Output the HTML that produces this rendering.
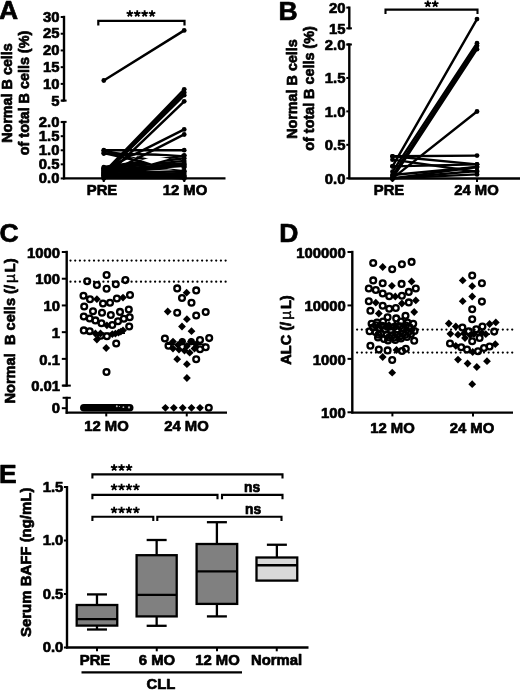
<!DOCTYPE html>
<html><head><meta charset="utf-8"><title>Figure</title>
<style>html,body{margin:0;padding:0;background:#fff}svg{display:block}</style></head><body>
<svg width="520" height="690" viewBox="0 0 520 690" font-family="Liberation Sans, sans-serif" font-weight="bold" fill="#000" stroke="none">
<defs><filter id="soft" x="-2%" y="-2%" width="104%" height="104%"><feGaussianBlur stdDeviation="0.35"/></filter></defs>
<rect width="520" height="690" fill="#fff"/>
<g filter="url(#soft)">
<g id="A" stroke="#000">
<line x1="64.00" y1="15.80" x2="64.00" y2="101.40" stroke-width="2.4" />
<line x1="64.00" y1="121.00" x2="64.00" y2="179.40" stroke-width="2.4" />
<line x1="63.00" y1="178.40" x2="225.50" y2="178.40" stroke-width="2.4" />
<line x1="60.70" y1="17.00" x2="64.00" y2="17.00" stroke-width="2.0" />
<line x1="60.70" y1="33.72" x2="64.00" y2="33.72" stroke-width="2.0" />
<line x1="60.70" y1="50.44" x2="64.00" y2="50.44" stroke-width="2.0" />
<line x1="60.70" y1="67.16" x2="64.00" y2="67.16" stroke-width="2.0" />
<line x1="60.70" y1="83.88" x2="64.00" y2="83.88" stroke-width="2.0" />
<line x1="60.70" y1="100.60" x2="64.00" y2="100.60" stroke-width="2.0" />
<line x1="60.70" y1="122.10" x2="64.00" y2="122.10" stroke-width="2.0" />
<line x1="60.70" y1="136.18" x2="64.00" y2="136.18" stroke-width="2.0" />
<line x1="60.70" y1="150.26" x2="64.00" y2="150.26" stroke-width="2.0" />
<line x1="60.70" y1="164.34" x2="64.00" y2="164.34" stroke-width="2.0" />
<line x1="60.70" y1="178.42" x2="64.00" y2="178.42" stroke-width="2.0" />
<line x1="103.75" y1="178.40" x2="103.75" y2="182.00" stroke-width="2.0" />
<line x1="184.25" y1="178.40" x2="184.25" y2="182.00" stroke-width="2.0" />
<line x1="61.40" y1="100.60" x2="66.60" y2="100.60" stroke-width="2.0" />
<line x1="61.40" y1="121.90" x2="66.60" y2="121.90" stroke-width="2.0" />
</g>
<text transform="translate(59.5,21.75) scale(0.99,1)" font-size="15" text-anchor="end" stroke="#000" stroke-width="0.7" stroke-linejoin="round" >30</text>
<text transform="translate(59.5,38.47) scale(0.99,1)" font-size="15" text-anchor="end" stroke="#000" stroke-width="0.7" stroke-linejoin="round" >25</text>
<text transform="translate(59.5,55.19) scale(0.99,1)" font-size="15" text-anchor="end" stroke="#000" stroke-width="0.7" stroke-linejoin="round" >20</text>
<text transform="translate(59.5,71.91) scale(0.99,1)" font-size="15" text-anchor="end" stroke="#000" stroke-width="0.7" stroke-linejoin="round" >15</text>
<text transform="translate(59.5,88.63) scale(0.99,1)" font-size="15" text-anchor="end" stroke="#000" stroke-width="0.7" stroke-linejoin="round" >10</text>
<text transform="translate(59.5,105.75) scale(0.99,1)" font-size="15" text-anchor="end" stroke="#000" stroke-width="0.7" stroke-linejoin="round" >5</text>
<text transform="translate(59.5,126.94999999999999) scale(0.99,1)" font-size="15" text-anchor="end" stroke="#000" stroke-width="0.7" stroke-linejoin="round" >2.0</text>
<text transform="translate(59.5,141.03) scale(0.99,1)" font-size="15" text-anchor="end" stroke="#000" stroke-width="0.7" stroke-linejoin="round" >1.5</text>
<text transform="translate(59.5,155.10999999999999) scale(0.99,1)" font-size="15" text-anchor="end" stroke="#000" stroke-width="0.7" stroke-linejoin="round" >1.0</text>
<text transform="translate(59.5,169.19) scale(0.99,1)" font-size="15" text-anchor="end" stroke="#000" stroke-width="0.7" stroke-linejoin="round" >0.5</text>
<text transform="translate(59.5,183.26999999999998) scale(0.99,1)" font-size="15" text-anchor="end" stroke="#000" stroke-width="0.7" stroke-linejoin="round" >0.0</text>
<text transform="translate(102,195.2) scale(0.99,1)" font-size="15" text-anchor="middle" stroke="#000" stroke-width="0.7" stroke-linejoin="round" >PRE</text>
<text transform="translate(185,195.2) scale(0.99,1)" font-size="15" text-anchor="middle" stroke="#000" stroke-width="0.7" stroke-linejoin="round" >12 MO</text>
<text transform="translate(-1,18.6) scale(1.0,1)" font-size="26.5" text-anchor="start" stroke="#000" stroke-width="0.7" stroke-linejoin="round" >A</text>
<text transform="translate(12,93) rotate(-90) scale(0.983,1)" font-size="14.6" text-anchor="middle" stroke="#000" stroke-width="0.7" stroke-linejoin="round">Normal B cells</text>
<text transform="translate(29,93) rotate(-90) scale(0.983,1)" font-size="14.6" text-anchor="middle" stroke="#000" stroke-width="0.7" stroke-linejoin="round">of total B cells (%)</text>
<path d="M98.3 25.5V20.9H184.5V25.5" fill="none" stroke="#000" stroke-width="2.2"/>
<path d="M129.85 13.60L129.85 10.15M129.85 13.60L133.13 12.53M129.85 13.60L131.88 16.39M129.85 13.60L127.82 16.39M129.85 13.60L126.57 12.53M137.25 13.60L137.25 10.15M137.25 13.60L140.53 12.53M137.25 13.60L139.28 16.39M137.25 13.60L135.22 16.39M137.25 13.60L133.97 12.53M144.65 13.60L144.65 10.15M144.65 13.60L147.93 12.53M144.65 13.60L146.68 16.39M144.65 13.60L142.62 16.39M144.65 13.60L141.37 12.53M152.05 13.60L152.05 10.15M152.05 13.60L155.33 12.53M152.05 13.60L154.08 16.39M152.05 13.60L150.02 16.39M152.05 13.60L148.77 12.53" fill="none" stroke="#000" stroke-width="1.8" stroke-linecap="butt"/>
<g stroke="#000" stroke-linecap="round">
<line x1="103.75" y1="80.46" x2="184.25" y2="30.36" stroke-width="2.5" />
<line x1="103.75" y1="172.68" x2="184.25" y2="89.31" stroke-width="2.5" />
<line x1="103.75" y1="173.80" x2="184.25" y2="92.48" stroke-width="2.5" />
<line x1="103.75" y1="174.93" x2="184.25" y2="95.16" stroke-width="2.5" />
<line x1="103.75" y1="178.30" x2="184.25" y2="101.33" stroke-width="2.5" />
<line x1="103.75" y1="169.87" x2="184.25" y2="129.41" stroke-width="2.5" />
<line x1="103.75" y1="175.49" x2="184.25" y2="134.46" stroke-width="2.5" />
<line x1="103.75" y1="150.20" x2="184.25" y2="150.20" stroke-width="2.5" />
<line x1="103.75" y1="153.57" x2="184.25" y2="155.26" stroke-width="2.5" />
<line x1="103.75" y1="153.01" x2="184.25" y2="171.28" stroke-width="2.5" />
<line x1="103.75" y1="150.76" x2="184.25" y2="167.06" stroke-width="2.5" />
<line x1="103.75" y1="167.06" x2="184.25" y2="155.82" stroke-width="2.5" />
<line x1="103.75" y1="168.18" x2="184.25" y2="158.35" stroke-width="2.5" />
<line x1="103.75" y1="169.03" x2="184.25" y2="160.88" stroke-width="2.5" />
<line x1="103.75" y1="170.43" x2="184.25" y2="163.13" stroke-width="2.5" />
<line x1="103.75" y1="171.28" x2="184.25" y2="165.37" stroke-width="2.5" />
<line x1="103.75" y1="172.68" x2="184.25" y2="167.06" stroke-width="2.5" />
<line x1="103.75" y1="174.09" x2="184.25" y2="170.99" stroke-width="2.5" />
<line x1="103.75" y1="175.49" x2="184.25" y2="172.96" stroke-width="2.5" />
<line x1="103.75" y1="176.61" x2="184.25" y2="174.93" stroke-width="2.5" />
<line x1="103.75" y1="177.46" x2="184.25" y2="176.61" stroke-width="2.5" />
<line x1="103.75" y1="178.30" x2="184.25" y2="178.30" stroke-width="2.5" />
<line x1="103.75" y1="168.18" x2="184.25" y2="176.05" stroke-width="2.5" />
<line x1="103.75" y1="169.87" x2="184.25" y2="178.30" stroke-width="2.5" />
<line x1="103.75" y1="174.93" x2="184.25" y2="178.30" stroke-width="2.5" />
<line x1="103.75" y1="172.68" x2="184.25" y2="164.25" stroke-width="2.5" />
</g>
<circle cx="103.8" cy="80.5" r="2.4" fill="#000"/>
<circle cx="184.2" cy="30.4" r="2.4" fill="#000"/>
<circle cx="103.8" cy="172.7" r="2.4" fill="#000"/>
<circle cx="184.2" cy="89.3" r="2.4" fill="#000"/>
<circle cx="103.8" cy="173.8" r="2.4" fill="#000"/>
<circle cx="184.2" cy="92.5" r="2.4" fill="#000"/>
<circle cx="103.8" cy="174.9" r="2.4" fill="#000"/>
<circle cx="184.2" cy="95.2" r="2.4" fill="#000"/>
<circle cx="103.8" cy="178.3" r="2.4" fill="#000"/>
<circle cx="184.2" cy="101.3" r="2.4" fill="#000"/>
<circle cx="103.8" cy="169.9" r="2.4" fill="#000"/>
<circle cx="184.2" cy="129.4" r="2.4" fill="#000"/>
<circle cx="103.8" cy="175.5" r="2.4" fill="#000"/>
<circle cx="184.2" cy="134.5" r="2.4" fill="#000"/>
<circle cx="103.8" cy="150.2" r="2.4" fill="#000"/>
<circle cx="184.2" cy="150.2" r="2.4" fill="#000"/>
<circle cx="103.8" cy="153.6" r="2.4" fill="#000"/>
<circle cx="184.2" cy="155.3" r="2.4" fill="#000"/>
<circle cx="103.8" cy="153.0" r="2.4" fill="#000"/>
<circle cx="184.2" cy="171.3" r="2.4" fill="#000"/>
<circle cx="103.8" cy="150.8" r="2.4" fill="#000"/>
<circle cx="184.2" cy="167.1" r="2.4" fill="#000"/>
<circle cx="103.8" cy="167.1" r="2.4" fill="#000"/>
<circle cx="184.2" cy="155.8" r="2.4" fill="#000"/>
<circle cx="103.8" cy="168.2" r="2.4" fill="#000"/>
<circle cx="184.2" cy="158.3" r="2.4" fill="#000"/>
<circle cx="103.8" cy="169.0" r="2.4" fill="#000"/>
<circle cx="184.2" cy="160.9" r="2.4" fill="#000"/>
<circle cx="103.8" cy="170.4" r="2.4" fill="#000"/>
<circle cx="184.2" cy="163.1" r="2.4" fill="#000"/>
<circle cx="103.8" cy="171.3" r="2.4" fill="#000"/>
<circle cx="184.2" cy="165.4" r="2.4" fill="#000"/>
<circle cx="103.8" cy="172.7" r="2.4" fill="#000"/>
<circle cx="184.2" cy="167.1" r="2.4" fill="#000"/>
<circle cx="103.8" cy="174.1" r="2.4" fill="#000"/>
<circle cx="184.2" cy="171.0" r="2.4" fill="#000"/>
<circle cx="103.8" cy="175.5" r="2.4" fill="#000"/>
<circle cx="184.2" cy="173.0" r="2.4" fill="#000"/>
<circle cx="103.8" cy="176.6" r="2.4" fill="#000"/>
<circle cx="184.2" cy="174.9" r="2.4" fill="#000"/>
<circle cx="103.8" cy="177.5" r="2.4" fill="#000"/>
<circle cx="184.2" cy="176.6" r="2.4" fill="#000"/>
<circle cx="103.8" cy="178.3" r="2.4" fill="#000"/>
<circle cx="184.2" cy="178.3" r="2.4" fill="#000"/>
<circle cx="103.8" cy="168.2" r="2.4" fill="#000"/>
<circle cx="184.2" cy="176.1" r="2.4" fill="#000"/>
<circle cx="103.8" cy="169.9" r="2.4" fill="#000"/>
<circle cx="184.2" cy="178.3" r="2.4" fill="#000"/>
<circle cx="103.8" cy="174.9" r="2.4" fill="#000"/>
<circle cx="184.2" cy="178.3" r="2.4" fill="#000"/>
<circle cx="103.8" cy="172.7" r="2.4" fill="#000"/>
<circle cx="184.2" cy="164.2" r="2.4" fill="#000"/>
<path d="M141.5 160.2L153 156.8L169.5 158.4L151.5 163.4Z" fill="#fff"/>
<path d="M167 168.3L181.5 167.3L181.5 169.8Z" fill="#fff"/>
<path d="M156 153.2L181.5 152.6L181.5 155Z" fill="#fff"/>
<path d="M130.5 156.2L137.5 155.6L136 157.6Z" fill="#fff"/>
<g id="B" stroke="#000">
<line x1="349.30" y1="6.50" x2="349.30" y2="29.40" stroke-width="2.4" />
<line x1="349.30" y1="43.40" x2="349.30" y2="179.00" stroke-width="2.4" />
<line x1="348.30" y1="178.50" x2="520.00" y2="178.50" stroke-width="2.4" />
<line x1="346.30" y1="7.60" x2="349.30" y2="7.60" stroke-width="2.0" />
<line x1="346.30" y1="28.30" x2="351.90" y2="28.30" stroke-width="2.0" />
<line x1="346.70" y1="44.50" x2="351.90" y2="44.50" stroke-width="2.0" />
<line x1="346.30" y1="44.50" x2="349.30" y2="44.50" stroke-width="2.0" />
<line x1="346.30" y1="77.94" x2="349.30" y2="77.94" stroke-width="2.0" />
<line x1="346.30" y1="111.38" x2="349.30" y2="111.38" stroke-width="2.0" />
<line x1="346.30" y1="144.82" x2="349.30" y2="144.82" stroke-width="2.0" />
<line x1="346.30" y1="178.26" x2="349.30" y2="178.26" stroke-width="2.0" />
<line x1="392.50" y1="178.50" x2="392.50" y2="182.00" stroke-width="2.0" />
<line x1="477.00" y1="178.50" x2="477.00" y2="182.00" stroke-width="2.0" />
</g>
<text transform="translate(345.5,12.85) scale(0.99,1)" font-size="15" text-anchor="end" stroke="#000" stroke-width="0.7" stroke-linejoin="round" >20</text>
<text transform="translate(345.5,33.55) scale(0.99,1)" font-size="15" text-anchor="end" stroke="#000" stroke-width="0.7" stroke-linejoin="round" >15</text>
<text transform="translate(345.5,49.75) scale(0.99,1)" font-size="15" text-anchor="end" stroke="#000" stroke-width="0.7" stroke-linejoin="round" >2.0</text>
<text transform="translate(345.5,83.19) scale(0.99,1)" font-size="15" text-anchor="end" stroke="#000" stroke-width="0.7" stroke-linejoin="round" >1.5</text>
<text transform="translate(345.5,116.63) scale(0.99,1)" font-size="15" text-anchor="end" stroke="#000" stroke-width="0.7" stroke-linejoin="round" >1.0</text>
<text transform="translate(345.5,150.07) scale(0.99,1)" font-size="15" text-anchor="end" stroke="#000" stroke-width="0.7" stroke-linejoin="round" >0.5</text>
<text transform="translate(345.5,183.51) scale(0.99,1)" font-size="15" text-anchor="end" stroke="#000" stroke-width="0.7" stroke-linejoin="round" >0.0</text>
<text transform="translate(389,195.2) scale(0.99,1)" font-size="15" text-anchor="middle" stroke="#000" stroke-width="0.7" stroke-linejoin="round" >PRE</text>
<text transform="translate(476.5,195.2) scale(0.99,1)" font-size="15" text-anchor="middle" stroke="#000" stroke-width="0.7" stroke-linejoin="round" >24 MO</text>
<text transform="translate(278.5,20.2) scale(1.0,1)" font-size="26.5" text-anchor="start" stroke="#000" stroke-width="0.7" stroke-linejoin="round" >B</text>
<text transform="translate(297,89) rotate(-90) scale(0.983,1)" font-size="14.6" text-anchor="middle" stroke="#000" stroke-width="0.7" stroke-linejoin="round">Normal B cells</text>
<text transform="translate(313.8,88.5) rotate(-90) scale(0.983,1)" font-size="14.6" text-anchor="middle" stroke="#000" stroke-width="0.7" stroke-linejoin="round">of total B cells (%)</text>
<path d="M385.5 14.0V9.6H477.5V14.0" fill="none" stroke="#000" stroke-width="2.1"/>
<path d="M427.80 3.90L427.80 0.45M427.80 3.90L431.08 2.83M427.80 3.90L429.83 6.69M427.80 3.90L425.77 6.69M427.80 3.90L424.52 2.83M435.20 3.90L435.20 0.45M435.20 3.90L438.48 2.83M435.20 3.90L437.23 6.69M435.20 3.90L433.17 6.69M435.20 3.90L431.92 2.83" fill="none" stroke="#000" stroke-width="1.8" stroke-linecap="butt"/>
<g stroke="#000" stroke-linecap="round">
<line x1="392.50" y1="166.35" x2="477.00" y2="19.15" stroke-width="2.4" />
<line x1="392.50" y1="171.71" x2="477.00" y2="43.16" stroke-width="2.4" />
<line x1="392.50" y1="175.72" x2="477.00" y2="45.84" stroke-width="2.4" />
<line x1="392.50" y1="178.40" x2="477.00" y2="49.19" stroke-width="2.4" />
<line x1="392.50" y1="178.40" x2="477.00" y2="111.45" stroke-width="2.4" />
<line x1="392.50" y1="156.31" x2="477.00" y2="155.64" stroke-width="2.4" />
<line x1="392.50" y1="156.31" x2="477.00" y2="164.34" stroke-width="2.4" />
<line x1="392.50" y1="159.65" x2="477.00" y2="171.71" stroke-width="2.4" />
<line x1="392.50" y1="166.35" x2="477.00" y2="164.34" stroke-width="2.4" />
<line x1="392.50" y1="175.05" x2="477.00" y2="167.02" stroke-width="2.4" />
<line x1="392.50" y1="178.40" x2="477.00" y2="167.02" stroke-width="2.4" />
<line x1="392.50" y1="178.40" x2="477.00" y2="171.04" stroke-width="2.4" />
<line x1="392.50" y1="178.40" x2="477.00" y2="174.38" stroke-width="2.4" />
</g>
<circle cx="392.5" cy="166.3" r="2.4" fill="#000"/>
<circle cx="477.0" cy="19.1" r="2.4" fill="#000"/>
<circle cx="392.5" cy="171.7" r="2.4" fill="#000"/>
<circle cx="477.0" cy="43.2" r="2.4" fill="#000"/>
<circle cx="392.5" cy="175.7" r="2.4" fill="#000"/>
<circle cx="477.0" cy="45.8" r="2.4" fill="#000"/>
<circle cx="392.5" cy="178.4" r="2.4" fill="#000"/>
<circle cx="477.0" cy="49.2" r="2.4" fill="#000"/>
<circle cx="392.5" cy="178.4" r="2.4" fill="#000"/>
<circle cx="477.0" cy="111.5" r="2.4" fill="#000"/>
<circle cx="392.5" cy="156.3" r="2.4" fill="#000"/>
<circle cx="477.0" cy="155.6" r="2.4" fill="#000"/>
<circle cx="392.5" cy="156.3" r="2.4" fill="#000"/>
<circle cx="477.0" cy="164.3" r="2.4" fill="#000"/>
<circle cx="392.5" cy="159.7" r="2.4" fill="#000"/>
<circle cx="477.0" cy="171.7" r="2.4" fill="#000"/>
<circle cx="392.5" cy="166.3" r="2.4" fill="#000"/>
<circle cx="477.0" cy="164.3" r="2.4" fill="#000"/>
<circle cx="392.5" cy="175.1" r="2.4" fill="#000"/>
<circle cx="477.0" cy="167.0" r="2.4" fill="#000"/>
<circle cx="392.5" cy="178.4" r="2.4" fill="#000"/>
<circle cx="477.0" cy="167.0" r="2.4" fill="#000"/>
<circle cx="392.5" cy="178.4" r="2.4" fill="#000"/>
<circle cx="477.0" cy="171.0" r="2.4" fill="#000"/>
<circle cx="392.5" cy="178.4" r="2.4" fill="#000"/>
<circle cx="477.0" cy="174.4" r="2.4" fill="#000"/>
<g id="C" stroke="#000">
<line x1="66.70" y1="250.80" x2="66.70" y2="386.60" stroke-width="2.4" />
<line x1="66.70" y1="396.80" x2="66.70" y2="413.80" stroke-width="2.4" />
<line x1="65.70" y1="412.60" x2="227.00" y2="412.60" stroke-width="2.4" />
<line x1="61.80" y1="252.00" x2="66.70" y2="252.00" stroke-width="2.0" />
<line x1="61.80" y1="278.72" x2="66.70" y2="278.72" stroke-width="2.0" />
<line x1="61.80" y1="305.44" x2="66.70" y2="305.44" stroke-width="2.0" />
<line x1="61.80" y1="332.16" x2="66.70" y2="332.16" stroke-width="2.0" />
<line x1="61.80" y1="358.88" x2="66.70" y2="358.88" stroke-width="2.0" />
<line x1="61.80" y1="385.60" x2="66.70" y2="385.60" stroke-width="2.0" />
<line x1="62.60" y1="397.80" x2="70.80" y2="397.80" stroke-width="2.0" />
<line x1="62.60" y1="385.60" x2="70.80" y2="385.60" stroke-width="2.0" />
<line x1="61.80" y1="408.20" x2="66.70" y2="408.20" stroke-width="2.0" />
<line x1="106.25" y1="412.60" x2="106.25" y2="416.40" stroke-width="2.0" />
<line x1="186.75" y1="412.60" x2="186.75" y2="416.40" stroke-width="2.0" />
<line x1="70.50" y1="260.50" x2="228.00" y2="260.50" stroke-width="2.25" stroke-dasharray="0.01 4.69" stroke-linecap="round"/>
<line x1="70.50" y1="281.70" x2="228.00" y2="281.70" stroke-width="2.25" stroke-dasharray="0.01 4.69" stroke-linecap="round"/>
</g>
<text transform="translate(60.0,257.75) scale(0.99,1)" font-size="15" text-anchor="end" stroke="#000" stroke-width="0.7" stroke-linejoin="round" >1000</text>
<text transform="translate(60.0,284.47) scale(0.99,1)" font-size="15" text-anchor="end" stroke="#000" stroke-width="0.7" stroke-linejoin="round" >100</text>
<text transform="translate(60.0,311.19) scale(0.99,1)" font-size="15" text-anchor="end" stroke="#000" stroke-width="0.7" stroke-linejoin="round" >10</text>
<text transform="translate(60.0,337.90999999999997) scale(0.99,1)" font-size="15" text-anchor="end" stroke="#000" stroke-width="0.7" stroke-linejoin="round" >1</text>
<text transform="translate(60.0,364.63) scale(0.99,1)" font-size="15" text-anchor="end" stroke="#000" stroke-width="0.7" stroke-linejoin="round" >0.1</text>
<text transform="translate(60.0,391.35) scale(0.99,1)" font-size="15" text-anchor="end" stroke="#000" stroke-width="0.7" stroke-linejoin="round" >0.01</text>
<text transform="translate(60.0,413.3) scale(0.99,1)" font-size="15" text-anchor="end" stroke="#000" stroke-width="0.7" stroke-linejoin="round" >0</text>
<text transform="translate(106.5,431.3) scale(0.99,1)" font-size="15" text-anchor="middle" stroke="#000" stroke-width="0.7" stroke-linejoin="round" >12 MO</text>
<text transform="translate(186.5,431.3) scale(0.99,1)" font-size="15" text-anchor="middle" stroke="#000" stroke-width="0.7" stroke-linejoin="round" >24 MO</text>
<text transform="translate(-0.5,241.6) scale(1.0,1)" font-size="26.5" text-anchor="start" stroke="#000" stroke-width="0.7" stroke-linejoin="round" >C</text>
<text transform="translate(15,403.6) rotate(-90) scale(1.002,1)" font-size="14.6" text-anchor="start" stroke="#000" stroke-width="0.7" stroke-linejoin="round">Normal&#160;&#160;B cells (/<tspan font-weight="normal" font-size="15.5" dx="2" stroke-width="0.5">µ</tspan><tspan dx="1.8">L)</tspan></text>
<path d="M115.4 329.7L119.3 333.6L115.4 337.5L111.5 333.6Z" fill="#000"/>
<path d="M120.8 327.7L124.7 331.6L120.8 335.5L116.9 331.6Z" fill="#000"/>
<path d="M100.5 329.6L104.4 333.5L100.5 337.4L96.6 333.5Z" fill="#000"/>
<path d="M96.9 295.3L100.8 299.2L96.9 303.1L93.0 299.2Z" fill="#000"/>
<path d="M123.0 293.7L126.9 297.6L123.0 301.5L119.1 297.6Z" fill="#000"/>
<path d="M106.9 321.4L110.8 325.3L106.9 329.2L103.0 325.3Z" fill="#000"/>
<path d="M95.4 329.6L99.3 333.5L95.4 337.4L91.5 333.5Z" fill="#000"/>
<path d="M112.3 330.3L116.2 334.2L112.3 338.1L108.4 334.2Z" fill="#000"/>
<path d="M118.5 328.8L122.4 332.7L118.5 336.6L114.6 332.7Z" fill="#000"/>
<path d="M123.0 326.5L126.9 330.4L123.0 334.3L119.1 330.4Z" fill="#000"/>
<path d="M96.9 335.7L100.8 339.6L96.9 343.5L93.0 339.6Z" fill="#000"/>
<path d="M106.2 344.1L110.1 348.0L106.2 351.9L102.3 348.0Z" fill="#000"/>
<circle cx="106.6" cy="275.0" r="2.9" fill="none" stroke="#000" stroke-width="2.3"/>
<circle cx="87.2" cy="281.2" r="2.9" fill="none" stroke="#000" stroke-width="2.3"/>
<circle cx="125.4" cy="280.1" r="2.9" fill="none" stroke="#000" stroke-width="2.3"/>
<circle cx="96.9" cy="285.0" r="2.9" fill="none" stroke="#000" stroke-width="2.3"/>
<circle cx="115.8" cy="284.2" r="2.9" fill="none" stroke="#000" stroke-width="2.3"/>
<circle cx="106.6" cy="288.8" r="2.9" fill="none" stroke="#000" stroke-width="2.3"/>
<circle cx="83.5" cy="295.8" r="2.9" fill="none" stroke="#000" stroke-width="2.3"/>
<circle cx="90.0" cy="299.2" r="2.9" fill="none" stroke="#000" stroke-width="2.3"/>
<circle cx="103.0" cy="303.5" r="2.9" fill="none" stroke="#000" stroke-width="2.3"/>
<circle cx="110.0" cy="302.7" r="2.9" fill="none" stroke="#000" stroke-width="2.3"/>
<circle cx="116.9" cy="298.5" r="2.9" fill="none" stroke="#000" stroke-width="2.3"/>
<circle cx="130.0" cy="295.0" r="2.9" fill="none" stroke="#000" stroke-width="2.3"/>
<circle cx="84.2" cy="306.5" r="2.9" fill="none" stroke="#000" stroke-width="2.3"/>
<circle cx="93.0" cy="311.2" r="2.9" fill="none" stroke="#000" stroke-width="2.3"/>
<circle cx="102.0" cy="312.7" r="2.9" fill="none" stroke="#000" stroke-width="2.3"/>
<circle cx="110.8" cy="315.0" r="2.9" fill="none" stroke="#000" stroke-width="2.3"/>
<circle cx="120.0" cy="311.9" r="2.9" fill="none" stroke="#000" stroke-width="2.3"/>
<circle cx="128.8" cy="309.6" r="2.9" fill="none" stroke="#000" stroke-width="2.3"/>
<circle cx="83.8" cy="316.5" r="2.9" fill="none" stroke="#000" stroke-width="2.3"/>
<circle cx="89.7" cy="318.5" r="2.9" fill="none" stroke="#000" stroke-width="2.3"/>
<circle cx="95.4" cy="320.4" r="2.9" fill="none" stroke="#000" stroke-width="2.3"/>
<circle cx="101.5" cy="323.2" r="2.9" fill="none" stroke="#000" stroke-width="2.3"/>
<circle cx="112.3" cy="325.0" r="2.9" fill="none" stroke="#000" stroke-width="2.3"/>
<circle cx="118.0" cy="321.2" r="2.9" fill="none" stroke="#000" stroke-width="2.3"/>
<circle cx="123.8" cy="318.8" r="2.9" fill="none" stroke="#000" stroke-width="2.3"/>
<circle cx="129.7" cy="317.3" r="2.9" fill="none" stroke="#000" stroke-width="2.3"/>
<circle cx="83.8" cy="330.4" r="2.9" fill="none" stroke="#000" stroke-width="2.3"/>
<circle cx="89.7" cy="331.2" r="2.9" fill="none" stroke="#000" stroke-width="2.3"/>
<circle cx="129.2" cy="326.5" r="2.9" fill="none" stroke="#000" stroke-width="2.3"/>
<circle cx="100.8" cy="335.8" r="2.9" fill="none" stroke="#000" stroke-width="2.3"/>
<circle cx="106.9" cy="336.2" r="2.9" fill="none" stroke="#000" stroke-width="2.3"/>
<circle cx="116.2" cy="343.5" r="2.9" fill="none" stroke="#000" stroke-width="2.3"/>
<circle cx="106.5" cy="372.0" r="2.9" fill="none" stroke="#000" stroke-width="2.3"/>
<g stroke="#000">
<line x1="88.00" y1="333.20" x2="125.00" y2="333.20" stroke-width="1.6" />
</g>
<rect x="80" y="404" width="53.5" height="7.6" rx="3.8" fill="#000"/>
<circle cx="116.8" cy="406.3" r="1.0" fill="#bbb"/>
<circle cx="123.4" cy="407.2" r="0.9" fill="#bbb"/>
<circle cx="129" cy="407.4" r="1.1" fill="#bbb"/>
<circle cx="119.5" cy="406.5" r="0.6" fill="#bbb"/>
<circle cx="182.3" cy="341.6" r="3.6" fill="#000"/>
<circle cx="191.3" cy="341.6" r="3.6" fill="#000"/>
<path d="M178.0 341.1L181.9 345.0L178.0 348.9L174.1 345.0Z" fill="#000"/>
<path d="M187.0 342.1L190.9 346.0L187.0 349.9L183.1 346.0Z" fill="#000"/>
<path d="M196.0 340.4L199.9 344.3L196.0 348.2L192.1 344.3Z" fill="#000"/>
<path d="M186.6 288.8L190.5 292.7L186.6 296.6L182.7 292.7Z" fill="#000"/>
<path d="M167.7 307.6L171.6 311.5L167.7 315.4L163.8 311.5Z" fill="#000"/>
<path d="M186.9 315.3L190.8 319.2L186.9 323.1L183.0 319.2Z" fill="#000"/>
<path d="M182.0 322.6L185.9 326.5L182.0 330.4L178.1 326.5Z" fill="#000"/>
<path d="M191.5 327.3L195.4 331.2L191.5 335.1L187.6 331.2Z" fill="#000"/>
<path d="M173.0 337.7L176.9 341.6L173.0 345.5L169.1 341.6Z" fill="#000"/>
<path d="M182.0 337.7L185.9 341.6L182.0 345.5L178.1 341.6Z" fill="#000"/>
<path d="M191.0 337.7L194.9 341.6L191.0 345.5L187.1 341.6Z" fill="#000"/>
<path d="M173.0 344.6L176.9 348.5L173.0 352.4L169.1 348.5Z" fill="#000"/>
<path d="M179.0 345.6L182.9 349.5L179.0 353.4L175.1 349.5Z" fill="#000"/>
<path d="M184.5 346.6L188.4 350.5L184.5 354.4L180.6 350.5Z" fill="#000"/>
<path d="M189.7 348.8L193.6 352.7L189.7 356.6L185.8 352.7Z" fill="#000"/>
<path d="M194.5 344.6L198.4 348.5L194.5 352.4L190.6 348.5Z" fill="#000"/>
<path d="M177.2 355.3L181.1 359.2L177.2 363.1L173.3 359.2Z" fill="#000"/>
<path d="M186.9 360.3L190.8 364.2L186.9 368.1L183.0 364.2Z" fill="#000"/>
<path d="M186.9 374.1L190.8 378.0L186.9 381.9L183.0 378.0Z" fill="#000"/>
<path d="M165.4 403.9L169.3 407.8L165.4 411.7L161.5 407.8Z" fill="#000"/>
<path d="M173.8 403.9L177.7 407.8L173.8 411.7L169.9 407.8Z" fill="#000"/>
<path d="M182.7 403.9L186.6 407.8L182.7 411.7L178.8 407.8Z" fill="#000"/>
<path d="M191.5 403.9L195.4 407.8L191.5 411.7L187.6 407.8Z" fill="#000"/>
<path d="M200.0 403.9L203.9 407.8L200.0 411.7L196.1 407.8Z" fill="#000"/>
<circle cx="177.2" cy="288.4" r="2.9" fill="none" stroke="#000" stroke-width="2.3"/>
<circle cx="196.2" cy="290.4" r="2.9" fill="none" stroke="#000" stroke-width="2.3"/>
<circle cx="182.0" cy="298.0" r="2.9" fill="none" stroke="#000" stroke-width="2.3"/>
<circle cx="191.5" cy="302.7" r="2.9" fill="none" stroke="#000" stroke-width="2.3"/>
<circle cx="177.2" cy="312.7" r="2.9" fill="none" stroke="#000" stroke-width="2.3"/>
<circle cx="196.2" cy="315.5" r="2.9" fill="none" stroke="#000" stroke-width="2.3"/>
<circle cx="205.7" cy="312.0" r="2.9" fill="none" stroke="#000" stroke-width="2.3"/>
<circle cx="164.9" cy="338.5" r="2.9" fill="none" stroke="#000" stroke-width="2.3"/>
<circle cx="209.2" cy="338.1" r="2.9" fill="none" stroke="#000" stroke-width="2.3"/>
<circle cx="200.0" cy="340.1" r="2.9" fill="none" stroke="#000" stroke-width="2.3"/>
<circle cx="168.5" cy="345.8" r="2.9" fill="none" stroke="#000" stroke-width="2.3"/>
<circle cx="205.7" cy="347.3" r="2.9" fill="none" stroke="#000" stroke-width="2.3"/>
<circle cx="200.0" cy="349.3" r="2.9" fill="none" stroke="#000" stroke-width="2.3"/>
<circle cx="196.2" cy="359.2" r="2.9" fill="none" stroke="#000" stroke-width="2.3"/>
<circle cx="208.8" cy="407.8" r="2.9" fill="none" stroke="#000" stroke-width="2.3"/>
<g stroke="#000">
<line x1="166.00" y1="344.30" x2="206.00" y2="344.30" stroke-width="1.6" />
</g>
<g id="D" stroke="#000">
<line x1="352.30" y1="250.80" x2="352.30" y2="413.50" stroke-width="2.4" />
<line x1="351.30" y1="412.60" x2="513.00" y2="412.60" stroke-width="2.4" />
<line x1="347.50" y1="252.00" x2="352.30" y2="252.00" stroke-width="2.0" />
<line x1="347.50" y1="305.43" x2="352.30" y2="305.43" stroke-width="2.0" />
<line x1="347.50" y1="358.86" x2="352.30" y2="358.86" stroke-width="2.0" />
<line x1="347.50" y1="412.29" x2="352.30" y2="412.29" stroke-width="2.0" />
<line x1="392.40" y1="412.60" x2="392.40" y2="416.40" stroke-width="2.0" />
<line x1="473.00" y1="412.60" x2="473.00" y2="416.40" stroke-width="2.0" />
<line x1="357.10" y1="329.50" x2="513.00" y2="329.50" stroke-width="2.25" stroke-dasharray="0.01 4.69" stroke-linecap="round"/>
<line x1="357.10" y1="352.60" x2="513.00" y2="352.60" stroke-width="2.25" stroke-dasharray="0.01 4.69" stroke-linecap="round"/>
</g>
<text transform="translate(345.8,257.75) scale(0.99,1)" font-size="15" text-anchor="end" stroke="#000" stroke-width="0.7" stroke-linejoin="round" >100000</text>
<text transform="translate(345.8,311.18) scale(0.99,1)" font-size="15" text-anchor="end" stroke="#000" stroke-width="0.7" stroke-linejoin="round" >10000</text>
<text transform="translate(345.8,364.61) scale(0.99,1)" font-size="15" text-anchor="end" stroke="#000" stroke-width="0.7" stroke-linejoin="round" >1000</text>
<text transform="translate(345.8,418.03999999999996) scale(0.99,1)" font-size="15" text-anchor="end" stroke="#000" stroke-width="0.7" stroke-linejoin="round" >100</text>
<text transform="translate(392.5,433) scale(0.99,1)" font-size="15" text-anchor="middle" stroke="#000" stroke-width="0.7" stroke-linejoin="round" >12 MO</text>
<text transform="translate(472,433) scale(0.99,1)" font-size="15" text-anchor="middle" stroke="#000" stroke-width="0.7" stroke-linejoin="round" >24 MO</text>
<text transform="translate(279.3,241.7) scale(1.0,1)" font-size="26.5" text-anchor="start" stroke="#000" stroke-width="0.7" stroke-linejoin="round" >D</text>
<text transform="translate(291,364.8) rotate(-90) scale(1.0,1)" font-size="14.6" text-anchor="start" stroke="#000" stroke-width="0.7" stroke-linejoin="round">ALC (/<tspan font-weight="normal" font-size="15.5" dx="2" stroke-width="0.5">µ</tspan><tspan dx="1.8">L)</tspan></text>
<circle cx="376.0" cy="325.3" r="2.9" fill="none" stroke="#000" stroke-width="2.3"/>
<circle cx="382.0" cy="325.8" r="2.9" fill="none" stroke="#000" stroke-width="2.3"/>
<circle cx="388.0" cy="326.8" r="2.9" fill="none" stroke="#000" stroke-width="2.3"/>
<circle cx="394.0" cy="327.0" r="2.9" fill="none" stroke="#000" stroke-width="2.3"/>
<circle cx="400.0" cy="326.3" r="2.9" fill="none" stroke="#000" stroke-width="2.3"/>
<circle cx="406.0" cy="325.5" r="2.9" fill="none" stroke="#000" stroke-width="2.3"/>
<circle cx="378.5" cy="334.8" r="2.9" fill="none" stroke="#000" stroke-width="2.3"/>
<circle cx="389.0" cy="337.5" r="2.9" fill="none" stroke="#000" stroke-width="2.3"/>
<circle cx="394.5" cy="337.6" r="2.9" fill="none" stroke="#000" stroke-width="2.3"/>
<circle cx="400.0" cy="336.3" r="2.9" fill="none" stroke="#000" stroke-width="2.3"/>
<circle cx="405.5" cy="334.8" r="2.9" fill="none" stroke="#000" stroke-width="2.3"/>
<circle cx="411.0" cy="334.0" r="2.9" fill="none" stroke="#000" stroke-width="2.3"/>
<path d="M382.7 263.1L386.6 267.0L382.7 270.9L378.8 267.0Z" fill="#000"/>
<path d="M391.9 281.9L395.8 285.8L391.9 289.7L388.0 285.8Z" fill="#000"/>
<path d="M411.6 277.6L415.5 281.5L411.6 285.4L407.7 281.5Z" fill="#000"/>
<path d="M395.3 292.6L399.2 296.5L395.3 300.4L391.4 296.5Z" fill="#000"/>
<path d="M375.8 298.8L379.7 302.7L375.8 306.6L371.9 302.7Z" fill="#000"/>
<path d="M401.9 299.6L405.8 303.5L401.9 307.4L398.0 303.5Z" fill="#000"/>
<path d="M415.8 296.5L419.7 300.4L415.8 304.3L411.9 300.4Z" fill="#000"/>
<path d="M378.8 309.6L382.7 313.5L378.8 317.4L374.9 313.5Z" fill="#000"/>
<path d="M414.2 308.1L418.1 312.0L414.2 315.9L410.3 312.0Z" fill="#000"/>
<path d="M396.5 346.1L400.4 350.0L396.5 353.9L392.6 350.0Z" fill="#000"/>
<path d="M382.7 353.1L386.6 357.0L382.7 360.9L378.8 357.0Z" fill="#000"/>
<path d="M392.2 368.8L396.1 372.7L392.2 376.6L388.3 372.7Z" fill="#000"/>
<path d="M412.0 326.1L415.9 330.0L412.0 333.9L408.1 330.0Z" fill="#000"/>
<path d="M389.0 321.1L392.9 325.0L389.0 328.9L385.1 325.0Z" fill="#000"/>
<path d="M395.0 321.1L398.9 325.0L395.0 328.9L391.1 325.0Z" fill="#000"/>
<circle cx="373.2" cy="263.0" r="2.9" fill="none" stroke="#000" stroke-width="2.3"/>
<circle cx="392.2" cy="269.2" r="2.9" fill="none" stroke="#000" stroke-width="2.3"/>
<circle cx="401.9" cy="264.2" r="2.9" fill="none" stroke="#000" stroke-width="2.3"/>
<circle cx="411.6" cy="261.9" r="2.9" fill="none" stroke="#000" stroke-width="2.3"/>
<circle cx="373.2" cy="280.4" r="2.9" fill="none" stroke="#000" stroke-width="2.3"/>
<circle cx="382.7" cy="283.2" r="2.9" fill="none" stroke="#000" stroke-width="2.3"/>
<circle cx="401.6" cy="283.9" r="2.9" fill="none" stroke="#000" stroke-width="2.3"/>
<circle cx="368.8" cy="288.5" r="2.9" fill="none" stroke="#000" stroke-width="2.3"/>
<circle cx="375.8" cy="290.0" r="2.9" fill="none" stroke="#000" stroke-width="2.3"/>
<circle cx="382.7" cy="293.5" r="2.9" fill="none" stroke="#000" stroke-width="2.3"/>
<circle cx="389.2" cy="296.2" r="2.9" fill="none" stroke="#000" stroke-width="2.3"/>
<circle cx="401.9" cy="295.8" r="2.9" fill="none" stroke="#000" stroke-width="2.3"/>
<circle cx="408.8" cy="291.9" r="2.9" fill="none" stroke="#000" stroke-width="2.3"/>
<circle cx="415.8" cy="288.5" r="2.9" fill="none" stroke="#000" stroke-width="2.3"/>
<circle cx="368.8" cy="301.2" r="2.9" fill="none" stroke="#000" stroke-width="2.3"/>
<circle cx="382.7" cy="305.8" r="2.9" fill="none" stroke="#000" stroke-width="2.3"/>
<circle cx="389.2" cy="308.8" r="2.9" fill="none" stroke="#000" stroke-width="2.3"/>
<circle cx="395.8" cy="308.0" r="2.9" fill="none" stroke="#000" stroke-width="2.3"/>
<circle cx="408.8" cy="302.4" r="2.9" fill="none" stroke="#000" stroke-width="2.3"/>
<circle cx="370.4" cy="310.7" r="2.9" fill="none" stroke="#000" stroke-width="2.3"/>
<circle cx="387.6" cy="317.3" r="2.9" fill="none" stroke="#000" stroke-width="2.3"/>
<circle cx="396.2" cy="318.4" r="2.9" fill="none" stroke="#000" stroke-width="2.3"/>
<circle cx="405.5" cy="315.8" r="2.9" fill="none" stroke="#000" stroke-width="2.3"/>
<circle cx="371.6" cy="323.8" r="2.9" fill="none" stroke="#000" stroke-width="2.3"/>
<circle cx="413.2" cy="323.8" r="2.9" fill="none" stroke="#000" stroke-width="2.3"/>
<circle cx="377.0" cy="322.5" r="2.9" fill="none" stroke="#000" stroke-width="2.3"/>
<circle cx="383.0" cy="321.5" r="2.9" fill="none" stroke="#000" stroke-width="2.3"/>
<circle cx="401.0" cy="321.5" r="2.9" fill="none" stroke="#000" stroke-width="2.3"/>
<circle cx="407.5" cy="322.5" r="2.9" fill="none" stroke="#000" stroke-width="2.3"/>
<circle cx="369.6" cy="331.2" r="2.9" fill="none" stroke="#000" stroke-width="2.3"/>
<circle cx="375.5" cy="332.0" r="2.9" fill="none" stroke="#000" stroke-width="2.3"/>
<circle cx="381.0" cy="333.5" r="2.9" fill="none" stroke="#000" stroke-width="2.3"/>
<circle cx="386.5" cy="335.0" r="2.9" fill="none" stroke="#000" stroke-width="2.3"/>
<circle cx="392.0" cy="335.5" r="2.9" fill="none" stroke="#000" stroke-width="2.3"/>
<circle cx="397.5" cy="335.0" r="2.9" fill="none" stroke="#000" stroke-width="2.3"/>
<circle cx="403.0" cy="333.5" r="2.9" fill="none" stroke="#000" stroke-width="2.3"/>
<circle cx="408.5" cy="332.0" r="2.9" fill="none" stroke="#000" stroke-width="2.3"/>
<circle cx="414.5" cy="331.0" r="2.9" fill="none" stroke="#000" stroke-width="2.3"/>
<circle cx="373.0" cy="327.5" r="2.9" fill="none" stroke="#000" stroke-width="2.3"/>
<circle cx="379.0" cy="328.5" r="2.9" fill="none" stroke="#000" stroke-width="2.3"/>
<circle cx="385.0" cy="329.5" r="2.9" fill="none" stroke="#000" stroke-width="2.3"/>
<circle cx="391.0" cy="330.0" r="2.9" fill="none" stroke="#000" stroke-width="2.3"/>
<circle cx="397.0" cy="329.5" r="2.9" fill="none" stroke="#000" stroke-width="2.3"/>
<circle cx="403.0" cy="328.5" r="2.9" fill="none" stroke="#000" stroke-width="2.3"/>
<circle cx="409.0" cy="327.5" r="2.9" fill="none" stroke="#000" stroke-width="2.3"/>
<circle cx="378.0" cy="337.5" r="2.9" fill="none" stroke="#000" stroke-width="2.3"/>
<circle cx="384.0" cy="339.0" r="2.9" fill="none" stroke="#000" stroke-width="2.3"/>
<circle cx="388.0" cy="340.4" r="2.9" fill="none" stroke="#000" stroke-width="2.3"/>
<circle cx="395.3" cy="340.0" r="2.9" fill="none" stroke="#000" stroke-width="2.3"/>
<circle cx="401.0" cy="338.5" r="2.9" fill="none" stroke="#000" stroke-width="2.3"/>
<circle cx="407.0" cy="337.0" r="2.9" fill="none" stroke="#000" stroke-width="2.3"/>
<circle cx="414.2" cy="340.7" r="2.9" fill="none" stroke="#000" stroke-width="2.3"/>
<circle cx="370.4" cy="345.8" r="2.9" fill="none" stroke="#000" stroke-width="2.3"/>
<circle cx="378.8" cy="349.6" r="2.9" fill="none" stroke="#000" stroke-width="2.3"/>
<circle cx="387.6" cy="350.4" r="2.9" fill="none" stroke="#000" stroke-width="2.3"/>
<circle cx="402.0" cy="351.0" r="2.9" fill="none" stroke="#000" stroke-width="2.3"/>
<circle cx="405.8" cy="348.8" r="2.9" fill="none" stroke="#000" stroke-width="2.3"/>
<circle cx="392.2" cy="360.0" r="2.9" fill="none" stroke="#000" stroke-width="2.3"/>
<g stroke="#000">
<line x1="370.00" y1="325.00" x2="413.00" y2="325.00" stroke-width="1.6" />
</g>
<path d="M464.0 329.5L467.9 333.4L464.0 337.3L460.1 333.4Z" fill="#000"/>
<path d="M470.3 331.3L474.2 335.2L470.3 339.1L466.4 335.2Z" fill="#000"/>
<path d="M481.8 328.9L485.7 332.8L481.8 336.7L477.9 332.8Z" fill="#000"/>
<path d="M462.7 276.5L466.6 280.4L462.7 284.3L458.8 280.4Z" fill="#000"/>
<path d="M472.2 282.3L476.1 286.2L472.2 290.1L468.3 286.2Z" fill="#000"/>
<path d="M472.2 292.6L476.1 296.5L472.2 300.4L468.3 296.5Z" fill="#000"/>
<path d="M462.7 297.3L466.6 301.2L462.7 305.1L458.8 301.2Z" fill="#000"/>
<path d="M448.8 319.6L452.7 323.5L448.8 327.4L444.9 323.5Z" fill="#000"/>
<path d="M495.8 318.5L499.7 322.4L495.8 326.3L491.9 322.4Z" fill="#000"/>
<path d="M455.8 322.6L459.7 326.5L455.8 330.4L451.9 326.5Z" fill="#000"/>
<path d="M489.6 320.1L493.5 324.0L489.6 327.9L485.7 324.0Z" fill="#000"/>
<path d="M450.4 329.9L454.3 333.8L450.4 337.7L446.5 333.8Z" fill="#000"/>
<path d="M458.0 330.8L461.9 334.7L458.0 338.6L454.1 334.7Z" fill="#000"/>
<path d="M465.0 334.1L468.9 338.0L465.0 341.9L461.1 338.0Z" fill="#000"/>
<path d="M485.8 330.3L489.7 334.2L485.8 338.1L481.9 334.2Z" fill="#000"/>
<path d="M474.0 330.1L477.9 334.0L474.0 337.9L470.1 334.0Z" fill="#000"/>
<path d="M455.8 341.9L459.7 345.8L455.8 349.7L451.9 345.8Z" fill="#000"/>
<path d="M472.7 348.1L476.6 352.0L472.7 355.9L468.8 352.0Z" fill="#000"/>
<path d="M495.3 340.3L499.2 344.2L495.3 348.1L491.4 344.2Z" fill="#000"/>
<path d="M458.0 355.7L461.9 359.6L458.0 363.5L454.1 359.6Z" fill="#000"/>
<path d="M467.6 359.6L471.5 363.5L467.6 367.4L463.7 363.5Z" fill="#000"/>
<path d="M476.8 363.1L480.7 367.0L476.8 370.9L472.9 367.0Z" fill="#000"/>
<path d="M487.0 357.3L490.9 361.2L487.0 365.1L483.1 361.2Z" fill="#000"/>
<path d="M472.2 380.3L476.1 384.2L472.2 388.1L468.3 384.2Z" fill="#000"/>
<circle cx="472.2" cy="275.5" r="2.9" fill="none" stroke="#000" stroke-width="2.3"/>
<circle cx="481.9" cy="283.2" r="2.9" fill="none" stroke="#000" stroke-width="2.3"/>
<circle cx="481.9" cy="301.6" r="2.9" fill="none" stroke="#000" stroke-width="2.3"/>
<circle cx="472.2" cy="309.3" r="2.9" fill="none" stroke="#000" stroke-width="2.3"/>
<circle cx="472.2" cy="319.3" r="2.9" fill="none" stroke="#000" stroke-width="2.3"/>
<circle cx="462.4" cy="327.6" r="2.9" fill="none" stroke="#000" stroke-width="2.3"/>
<circle cx="482.4" cy="326.5" r="2.9" fill="none" stroke="#000" stroke-width="2.3"/>
<circle cx="476.2" cy="329.2" r="2.9" fill="none" stroke="#000" stroke-width="2.3"/>
<circle cx="494.2" cy="331.6" r="2.9" fill="none" stroke="#000" stroke-width="2.3"/>
<circle cx="468.8" cy="331.2" r="2.9" fill="none" stroke="#000" stroke-width="2.3"/>
<circle cx="479.6" cy="338.0" r="2.9" fill="none" stroke="#000" stroke-width="2.3"/>
<circle cx="472.2" cy="341.2" r="2.9" fill="none" stroke="#000" stroke-width="2.3"/>
<circle cx="450.0" cy="343.5" r="2.9" fill="none" stroke="#000" stroke-width="2.3"/>
<circle cx="461.2" cy="347.3" r="2.9" fill="none" stroke="#000" stroke-width="2.3"/>
<circle cx="467.0" cy="349.6" r="2.9" fill="none" stroke="#000" stroke-width="2.3"/>
<circle cx="478.0" cy="351.2" r="2.9" fill="none" stroke="#000" stroke-width="2.3"/>
<circle cx="484.0" cy="348.0" r="2.9" fill="none" stroke="#000" stroke-width="2.3"/>
<circle cx="489.6" cy="346.5" r="2.9" fill="none" stroke="#000" stroke-width="2.3"/>
<g stroke="#000">
<line x1="460.00" y1="334.20" x2="490.00" y2="334.20" stroke-width="1.6" />
</g>
<g id="E" stroke="#000">
<line x1="67.00" y1="486.00" x2="67.00" y2="648.50" stroke-width="2.4" />
<line x1="66.00" y1="647.50" x2="308.50" y2="647.50" stroke-width="2.4" />
<line x1="63.90" y1="487.00" x2="67.00" y2="487.00" stroke-width="2.0" />
<line x1="63.90" y1="540.50" x2="67.00" y2="540.50" stroke-width="2.0" />
<line x1="63.90" y1="594.00" x2="67.00" y2="594.00" stroke-width="2.0" />
<line x1="63.90" y1="647.50" x2="67.00" y2="647.50" stroke-width="2.0" />
<line x1="97.00" y1="647.50" x2="97.00" y2="651.30" stroke-width="2.0" />
<line x1="156.75" y1="647.50" x2="156.75" y2="651.30" stroke-width="2.0" />
<line x1="217.00" y1="647.50" x2="217.00" y2="651.30" stroke-width="2.0" />
<line x1="276.75" y1="647.50" x2="276.75" y2="651.30" stroke-width="2.0" />
<line x1="81.50" y1="672.40" x2="242.00" y2="672.40" stroke-width="2.4" />
<line x1="96.97" y1="594.40" x2="96.97" y2="605.00" stroke-width="2.3" />
<line x1="86.97" y1="594.40" x2="106.97" y2="594.40" stroke-width="2.3" />
<line x1="96.97" y1="625.60" x2="96.97" y2="629.50" stroke-width="2.3" />
<line x1="86.97" y1="629.50" x2="106.97" y2="629.50" stroke-width="2.3" />
<rect x="76.7" y="605" width="40.55" height="20.600000000000023" fill="#808080" stroke="#000" stroke-width="2.3"/>
<line x1="76.70" y1="619.10" x2="117.25" y2="619.10" stroke-width="2.3" stroke="#000"/>
<line x1="156.65" y1="540.00" x2="156.65" y2="555.20" stroke-width="2.3" />
<line x1="146.65" y1="540.00" x2="166.65" y2="540.00" stroke-width="2.3" />
<line x1="156.65" y1="616.40" x2="156.65" y2="625.80" stroke-width="2.3" />
<line x1="146.65" y1="625.80" x2="166.65" y2="625.80" stroke-width="2.3" />
<rect x="136.6" y="555.2" width="40.099999999999994" height="61.19999999999993" fill="#808080" stroke="#000" stroke-width="2.3"/>
<line x1="136.60" y1="594.80" x2="176.70" y2="594.80" stroke-width="2.3" stroke="#000"/>
<line x1="216.90" y1="522.20" x2="216.90" y2="544.00" stroke-width="2.3" />
<line x1="206.90" y1="522.20" x2="226.90" y2="522.20" stroke-width="2.3" />
<line x1="216.90" y1="603.90" x2="216.90" y2="616.40" stroke-width="2.3" />
<line x1="206.90" y1="616.40" x2="226.90" y2="616.40" stroke-width="2.3" />
<rect x="196.6" y="544" width="40.599999999999994" height="59.89999999999998" fill="#808080" stroke="#000" stroke-width="2.3"/>
<line x1="196.60" y1="571.40" x2="237.20" y2="571.40" stroke-width="2.3" stroke="#000"/>
<line x1="276.88" y1="544.75" x2="276.88" y2="557.50" stroke-width="2.3" />
<line x1="266.88" y1="544.75" x2="286.88" y2="544.75" stroke-width="2.3" />
<rect x="256.5" y="557.5" width="40.75" height="23.100000000000023" fill="#d9d9d9" stroke="#000" stroke-width="2.3"/>
<line x1="256.50" y1="565.25" x2="297.25" y2="565.25" stroke-width="2.3" stroke="#000"/>
</g>
<text transform="translate(63.3,491.95) scale(0.99,1)" font-size="15" text-anchor="end" stroke="#000" stroke-width="0.7" stroke-linejoin="round" >1.5</text>
<text transform="translate(63.3,545.45) scale(0.99,1)" font-size="15" text-anchor="end" stroke="#000" stroke-width="0.7" stroke-linejoin="round" >1.0</text>
<text transform="translate(63.3,598.95) scale(0.99,1)" font-size="15" text-anchor="end" stroke="#000" stroke-width="0.7" stroke-linejoin="round" >0.5</text>
<text transform="translate(63.3,652.45) scale(0.99,1)" font-size="15" text-anchor="end" stroke="#000" stroke-width="0.7" stroke-linejoin="round" >0.0</text>
<text transform="translate(95,664.5) scale(0.99,1)" font-size="15" text-anchor="middle" stroke="#000" stroke-width="0.7" stroke-linejoin="round" >PRE</text>
<text transform="translate(157,664.5) scale(0.99,1)" font-size="15" text-anchor="middle" stroke="#000" stroke-width="0.7" stroke-linejoin="round" >6 MO</text>
<text transform="translate(217.5,664.5) scale(0.99,1)" font-size="15" text-anchor="middle" stroke="#000" stroke-width="0.7" stroke-linejoin="round" >12 MO</text>
<text transform="translate(276.5,664.5) scale(0.99,1)" font-size="15" text-anchor="middle" stroke="#000" stroke-width="0.7" stroke-linejoin="round" >Normal</text>
<text transform="translate(161,689) scale(0.99,1)" font-size="15" text-anchor="middle" stroke="#000" stroke-width="0.7" stroke-linejoin="round" >CLL</text>
<text transform="translate(-1,483) scale(1.0,1)" font-size="26.5" text-anchor="start" stroke="#000" stroke-width="0.7" stroke-linejoin="round" >E</text>
<text transform="translate(31.3,562.3) rotate(-90) scale(1.024,1)" font-size="14.6" text-anchor="middle" stroke="#000" stroke-width="0.7" stroke-linejoin="round">Serum BAFF (ng/mL)</text>
<path d="M92.4 478.59999999999997V474.4H282.5V478.59999999999997" fill="none" stroke="#000" stroke-width="2.1"/>
<path d="M92.4 499.29999999999995V494.9H217.5V499.29999999999995" fill="none" stroke="#000" stroke-width="2.1"/>
<path d="M222 499.29999999999995V494.9H282.5V499.29999999999995" fill="none" stroke="#000" stroke-width="2.1"/>
<path d="M92.4 521.0V516.8H153.3V521.0" fill="none" stroke="#000" stroke-width="2.1"/>
<path d="M157.3 521.0V516.8H281.5V521.0" fill="none" stroke="#000" stroke-width="2.1"/>
<path d="M114.15 467.70L114.15 464.25M114.15 467.70L117.43 466.63M114.15 467.70L116.18 470.49M114.15 467.70L112.12 470.49M114.15 467.70L110.87 466.63M121.55 467.70L121.55 464.25M121.55 467.70L124.83 466.63M121.55 467.70L123.58 470.49M121.55 467.70L119.52 470.49M121.55 467.70L118.27 466.63M128.95 467.70L128.95 464.25M128.95 467.70L132.23 466.63M128.95 467.70L130.98 470.49M128.95 467.70L126.92 470.49M128.95 467.70L125.67 466.63" fill="none" stroke="#000" stroke-width="1.8" stroke-linecap="butt"/>
<path d="M114.15 487.20L114.15 483.75M114.15 487.20L117.43 486.13M114.15 487.20L116.18 489.99M114.15 487.20L112.12 489.99M114.15 487.20L110.87 486.13M121.55 487.20L121.55 483.75M121.55 487.20L124.83 486.13M121.55 487.20L123.58 489.99M121.55 487.20L119.52 489.99M121.55 487.20L118.27 486.13M128.95 487.20L128.95 483.75M128.95 487.20L132.23 486.13M128.95 487.20L130.98 489.99M128.95 487.20L126.92 489.99M128.95 487.20L125.67 486.13M136.35 487.20L136.35 483.75M136.35 487.20L139.63 486.13M136.35 487.20L138.38 489.99M136.35 487.20L134.32 489.99M136.35 487.20L133.07 486.13" fill="none" stroke="#000" stroke-width="1.8" stroke-linecap="butt"/>
<path d="M114.15 510.10L114.15 506.65M114.15 510.10L117.43 509.03M114.15 510.10L116.18 512.89M114.15 510.10L112.12 512.89M114.15 510.10L110.87 509.03M121.55 510.10L121.55 506.65M121.55 510.10L124.83 509.03M121.55 510.10L123.58 512.89M121.55 510.10L119.52 512.89M121.55 510.10L118.27 509.03M128.95 510.10L128.95 506.65M128.95 510.10L132.23 509.03M128.95 510.10L130.98 512.89M128.95 510.10L126.92 512.89M128.95 510.10L125.67 509.03M136.35 510.10L136.35 506.65M136.35 510.10L139.63 509.03M136.35 510.10L138.38 512.89M136.35 510.10L134.32 512.89M136.35 510.10L133.07 509.03" fill="none" stroke="#000" stroke-width="1.8" stroke-linecap="butt"/>
<text transform="translate(252,492) scale(0.99,1)" font-size="14" text-anchor="middle" stroke="#000" stroke-width="0.7" stroke-linejoin="round" >ns</text>
<text transform="translate(253,513.5) scale(0.99,1)" font-size="14" text-anchor="middle" stroke="#000" stroke-width="0.7" stroke-linejoin="round" >ns</text>
</g>
</svg></body></html>
